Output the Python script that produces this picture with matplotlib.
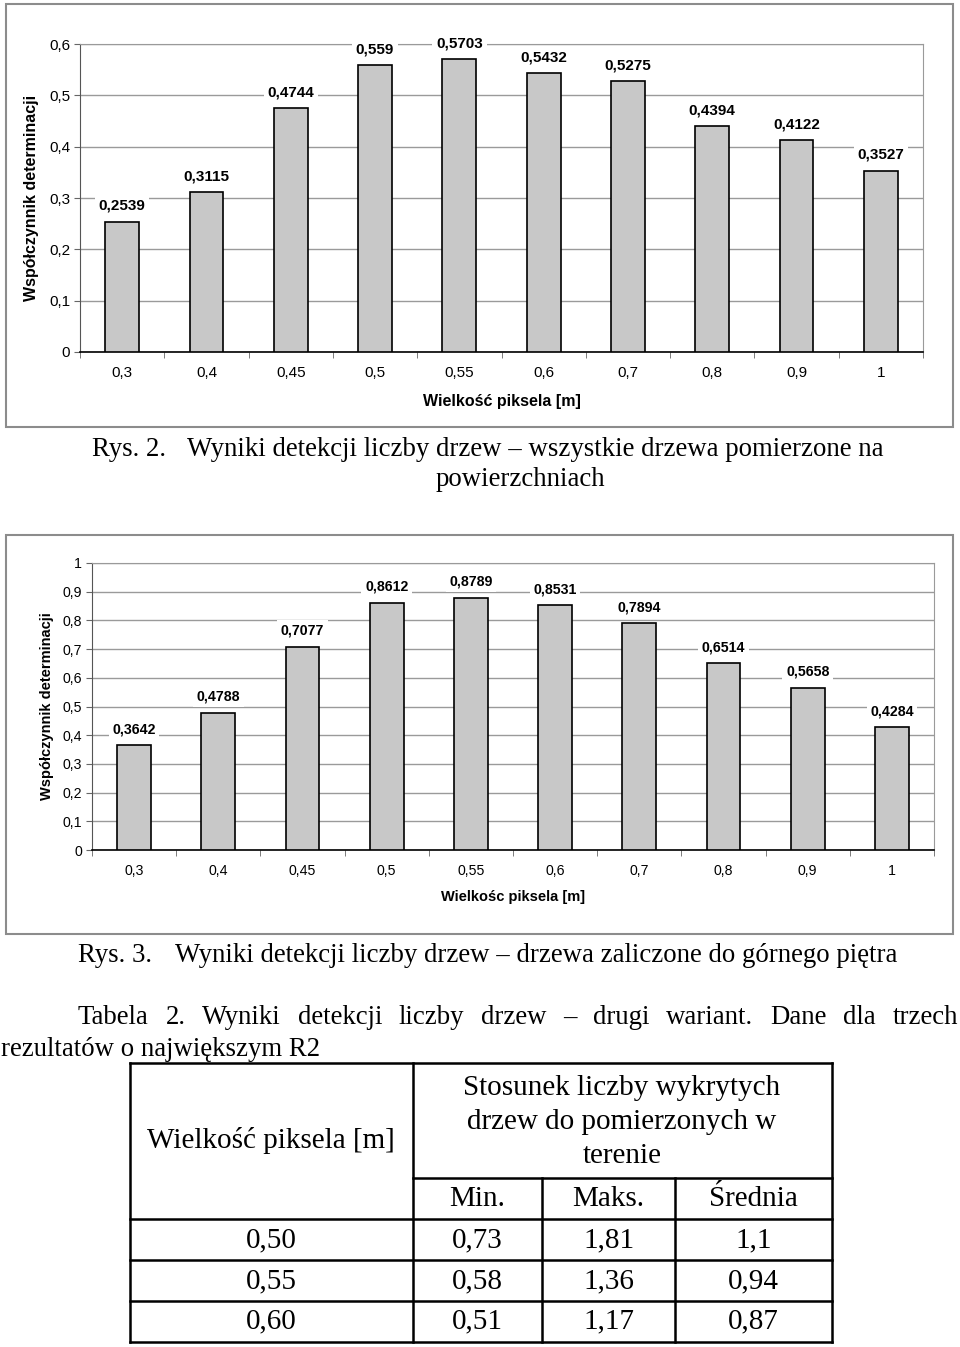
import matplotlib
matplotlib.use('Agg')
import matplotlib.pyplot as plt
import numpy as np
from matplotlib.patches import Rectangle
from matplotlib.ticker import FuncFormatter

plt.rcParams['font.family'] = ['Liberation Sans', 'DejaVu Sans']
SERIF = ['Liberation Serif', 'DejaVu Serif']

# data
pixel_sizes = ['0,3', '0,4', '0,45', '0,5', '0,55', '0,6', '0,7', '0,8', '0,9', '1']
r2_all_trees = [0.2539, 0.3115, 0.4744, 0.559, 0.5703, 0.5432, 0.5275, 0.4394, 0.4122, 0.3527]
r2_upper_trees = [0.3642, 0.4788, 0.7077, 0.8612, 0.8789, 0.8531, 0.7894, 0.6514, 0.5658, 0.4284]

table_pixel = ['0,50', '0,55', '0,60']
table_min = ['0,73', '0,58', '0,51']
table_max = ['1,81', '1,36', '1,17']
table_mean = ['1,1', '0,94', '0,87']

W, H = 960, 1347
fig = plt.figure(figsize=(W / 100, H / 100), dpi=100)

# page overlay in pixel coordinates
page = fig.add_axes([0, 0, 1, 1])
page.set_xlim(0, W)
page.set_ylim(H, 0)
page.axis('off')


def px_rect(left, top, right, bottom):
    return [left / W, 1 - bottom / H, (right - left) / W, (bottom - top) / H]


def comma(v):
    return f"{round(v, 1):g}".replace('.', ',')


def bar_chart(rect, values, ymax, xlabel, fs, lfs, ylab_x, xlab_y):
    ax = fig.add_axes(rect)
    x = np.arange(len(values))
    ax.bar(x, values, width=0.4, color='#c8c8c8', edgecolor='black', linewidth=1.2, zorder=3)
    ax.set_xlim(-0.5, len(values) - 0.5)
    ax.set_ylim(0, ymax)
    ax.set_yticks(np.arange(0, ymax + 0.001, 0.1))
    ax.yaxis.set_major_formatter(FuncFormatter(lambda v, p: comma(v)))
    ax.set_xticks(x)
    ax.set_xticklabels(pixel_sizes)
    ax.set_xticks(np.arange(-0.5, len(values), 1), minor=True)
    ax.tick_params(axis='x', which='major', length=0, pad=10, labelsize=fs)
    ax.tick_params(axis='x', which='minor', length=4, direction='out', color='#666')
    ax.tick_params(axis='y', length=4, pad=3, color='#666', labelsize=fs)
    ax.grid(axis='y', color='#9a9a9a', linewidth=1)
    ax.set_axisbelow(True)
    for s in ['top', 'right']:
        ax.spines[s].set_color('#9a9a9a')
    ax.spines['left'].set_color('#555')
    ax.spines['bottom'].set_color('black')
    ax.spines['bottom'].set_linewidth(1.2)

    for xi, v in zip(x, values):
        ax.annotate(str(v).replace('.', ','), (xi, v), xytext=(0, 11.5), textcoords='offset points',
                    ha='center', va='center', fontsize=fs, fontweight='bold', zorder=4,
                    bbox=dict(boxstyle='square,pad=0.25', fc='white', ec='none'))

    ax.set_ylabel('Współczynnik determinacji', fontsize=lfs, fontweight='bold')
    ax.yaxis.set_label_coords(ylab_x, 0.5)
    ax.yaxis.label.set_va('center')
    ax.set_xlabel(xlabel, fontsize=lfs, fontweight='bold')
    ax.xaxis.set_label_coords(0.5, xlab_y)
    ax.xaxis.label.set_va('center')
    return ax


# chart frames
page.add_patch(Rectangle((6, 4), 947, 423, fill=False, ec='#8c8c8c', lw=1.5))
page.add_patch(Rectangle((6, 535), 947, 399, fill=False, ec='#8c8c8c', lw=1.5))

bar_chart(px_rect(80, 44, 923, 352), r2_all_trees, 0.6, 'Wielkość piksela [m]', 11, 11.5,
          (32 - 80) / 843, (352 - 402) / 308)
bar_chart(px_rect(92, 563, 934, 850), r2_upper_trees, 1.0, 'Wielkośc piksela [m]', 10.2, 10.5,
          (47 - 92) / 842, (850 - 897) / 287)

# captions
cap = dict(family=SERIF, fontsize=19.3, va='center')
page.text(92, 450, 'Rys. 2.', **cap)
page.text(187, 450, 'Wyniki detekcji liczby drzew – wszystkie drzewa pomierzone na', **cap)
page.text(520, 480, 'powierzchniach', ha='center', **cap)
page.text(78, 955, 'Rys. 3.', **cap)
page.text(175, 955, 'Wyniki detekcji liczby drzew – drzewa zaliczone do górnego piętra', **cap)

# justified first line of the table title
words = 'Tabela 2. Wyniki detekcji liczby drzew – drugi wariant. Dane dla trzech'.split()
wt = [page.text(0, 1018, w, **cap) for w in words]
fig.canvas.draw()
r = fig.canvas.get_renderer()
widths = [t.get_window_extent(r).width for t in wt]
gap = (958 - 78 - sum(widths)) / (len(words) - 1)
xpos = 78
for t, w in zip(wt, widths):
    t.set_x(xpos)
    xpos += w + gap
page.text(1, 1050, 'rezultatów o największym R2', **cap)

# table
lw = 1.8
cols = [130, 413, 542, 675, 832]
page.plot([130, 832], [1063, 1063], color='black', lw=lw)
page.plot([413, 832], [1178, 1178], color='black', lw=lw)
for yy in [1219, 1260, 1301, 1342]:
    page.plot([130, 832], [yy, yy], color='black', lw=lw)
for xx in [130, 413, 832]:
    page.plot([xx, xx], [1063, 1342], color='black', lw=lw)
for xx in [542, 675]:
    page.plot([xx, xx], [1178, 1342], color='black', lw=lw)

tfs = dict(family=SERIF, fontsize=21, ha='center', va='center')
page.text(271, 1141, 'Wielkość piksela [m]', **tfs)
for yy, line in zip([1088, 1122, 1156], ['Stosunek liczby wykrytych', 'drzew do pomierzonych w', 'terenie']):
    page.text(622, yy, line, **tfs)
centers = [(a + b) / 2 for a, b in zip(cols[:-1], cols[1:])]
for cx, h in zip(centers[1:], ['Min.', 'Maks.', 'Średnia']):
    page.text(cx, 1199, h, **tfs)
for yy, row in zip([1240, 1281, 1321], zip(table_pixel, table_min, table_max, table_mean)):
    for cx, val in zip(centers, row):
        page.text(cx, yy, val, **tfs)

fig.savefig('out.png', dpi=100)
